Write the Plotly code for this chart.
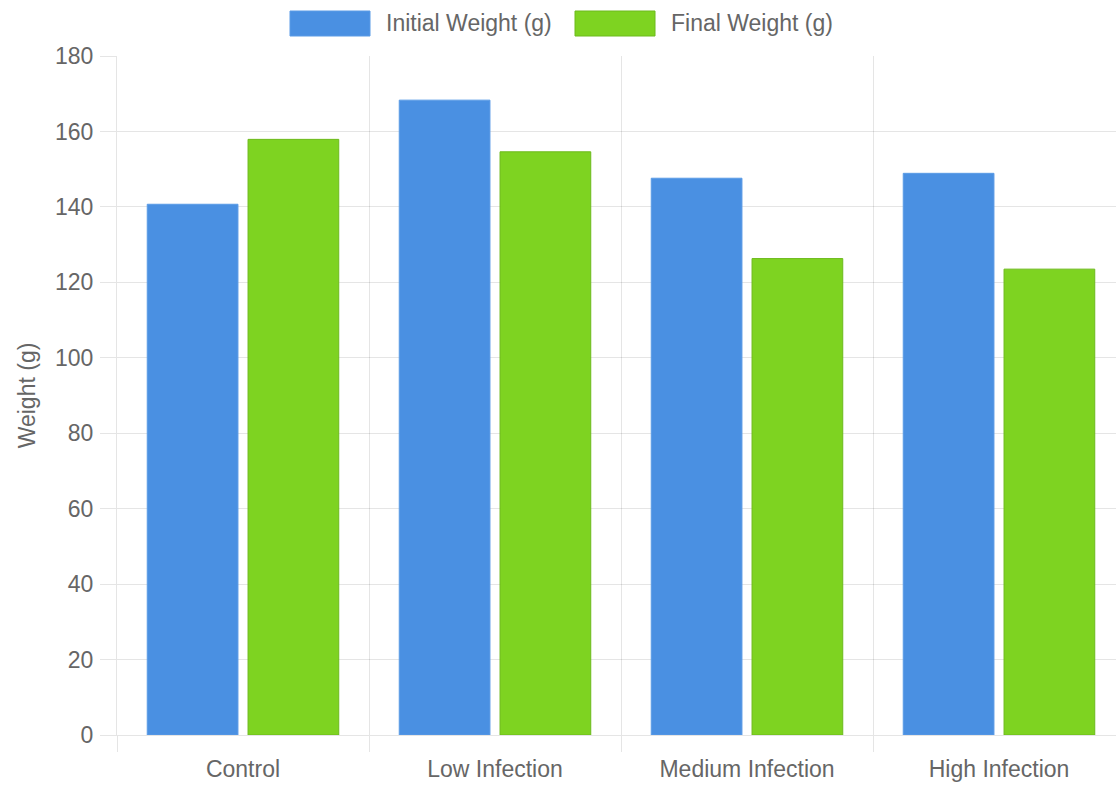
import plotly.graph_objects as go

categories = ["Control", "Low Infection", "Medium Infection", "High Infection"]
initial_weight = [140.7, 168.3, 147.6, 148.9]
final_weight = [157.9, 154.6, 126.3, 123.5]
series_names = ["Initial Weight (g)", "Final Weight (g)"]
y_ticks = [0, 20, 40, 60, 80, 100, 120, 140, 160, 180]

BLUE = "#4A90E2"
GREEN = "#7ED321"
TEXT = "#666666"
GRID = "rgba(0,0,0,0.1)"
FONT = "Liberation Sans, Arial, Helvetica, sans-serif"

W, H = 1116, 786
L, R, T, B = 117, 0, 56, 51
PW, PH = W - L - R, H - T - B
CAT_PX = 252  # width of one category band; the last band runs past the right edge


def px_x(p):
    return (p - L) / PW


def px_y(q):
    return (H - B - q) / PH


fig = go.Figure()
fig.add_trace(go.Bar(x=categories, y=initial_weight, name=series_names[0],
                     marker=dict(color=BLUE, line=dict(color="#5A9BE6", width=1))))
fig.add_trace(go.Bar(x=categories, y=final_weight, name=series_names[1],
                     marker=dict(color=GREEN, line=dict(color="#6DBA1C", width=1))))

# custom legend: wide colour boxes with labels, centred above the plot
legend_items = [
    (series_names[0], BLUE, "#5A9BE6", 290, 370, 384),
    (series_names[1], GREEN, "#6DBA1C", 575, 655, 669),
]
shapes = []
annotations = []
for name, fill, edge, x0, x1, tx in legend_items:
    shapes.append(dict(type="rect", xref="paper", yref="paper",
                       x0=px_x(x0), x1=px_x(x1), y0=px_y(36), y1=px_y(11),
                       fillcolor=fill, line=dict(color=edge, width=1)))
    annotations.append(dict(text=name, xref="paper", yref="paper",
                            x=px_x(tx), y=px_y(23), xanchor="left", yanchor="middle",
                            showarrow=False, font=dict(size=23, color=TEXT, family=FONT)))

fig.update_layout(
    width=W, height=H,
    margin=dict(l=L, r=R, t=T, b=B, pad=0),
    paper_bgcolor="white", plot_bgcolor="white",
    barmode="group", bargap=0.2, bargroupgap=0.1,
    showlegend=False,
    font=dict(family=FONT, size=23, color=TEXT),
    shapes=shapes, annotations=annotations,
    xaxis=dict(
        type="category", tickson="boundaries",
        range=[-0.5, -0.5 + PW / CAT_PX],
        showgrid=True, gridcolor=GRID, gridwidth=1,
        ticks="outside", ticklen=16, tickcolor=GRID, tickwidth=1,
        showline=True, linecolor=GRID, linewidth=1,
        tickfont=dict(size=23, color=TEXT),
        ticklabelstandoff=13,
    ),
    yaxis=dict(
        range=[0, 180], tickvals=y_ticks,
        showgrid=True, gridcolor=GRID, gridwidth=1,
        zeroline=False,
        ticks="outside", ticklen=16, tickcolor=GRID, tickwidth=1,
        showline=True, linecolor=GRID, linewidth=1,
        tickfont=dict(size=23, color=TEXT),
        ticklabelstandoff=2,
        title=dict(text="Weight (g)", font=dict(size=23, color=TEXT), standoff=12),
    ),
)

fig.write_html("out.html")
